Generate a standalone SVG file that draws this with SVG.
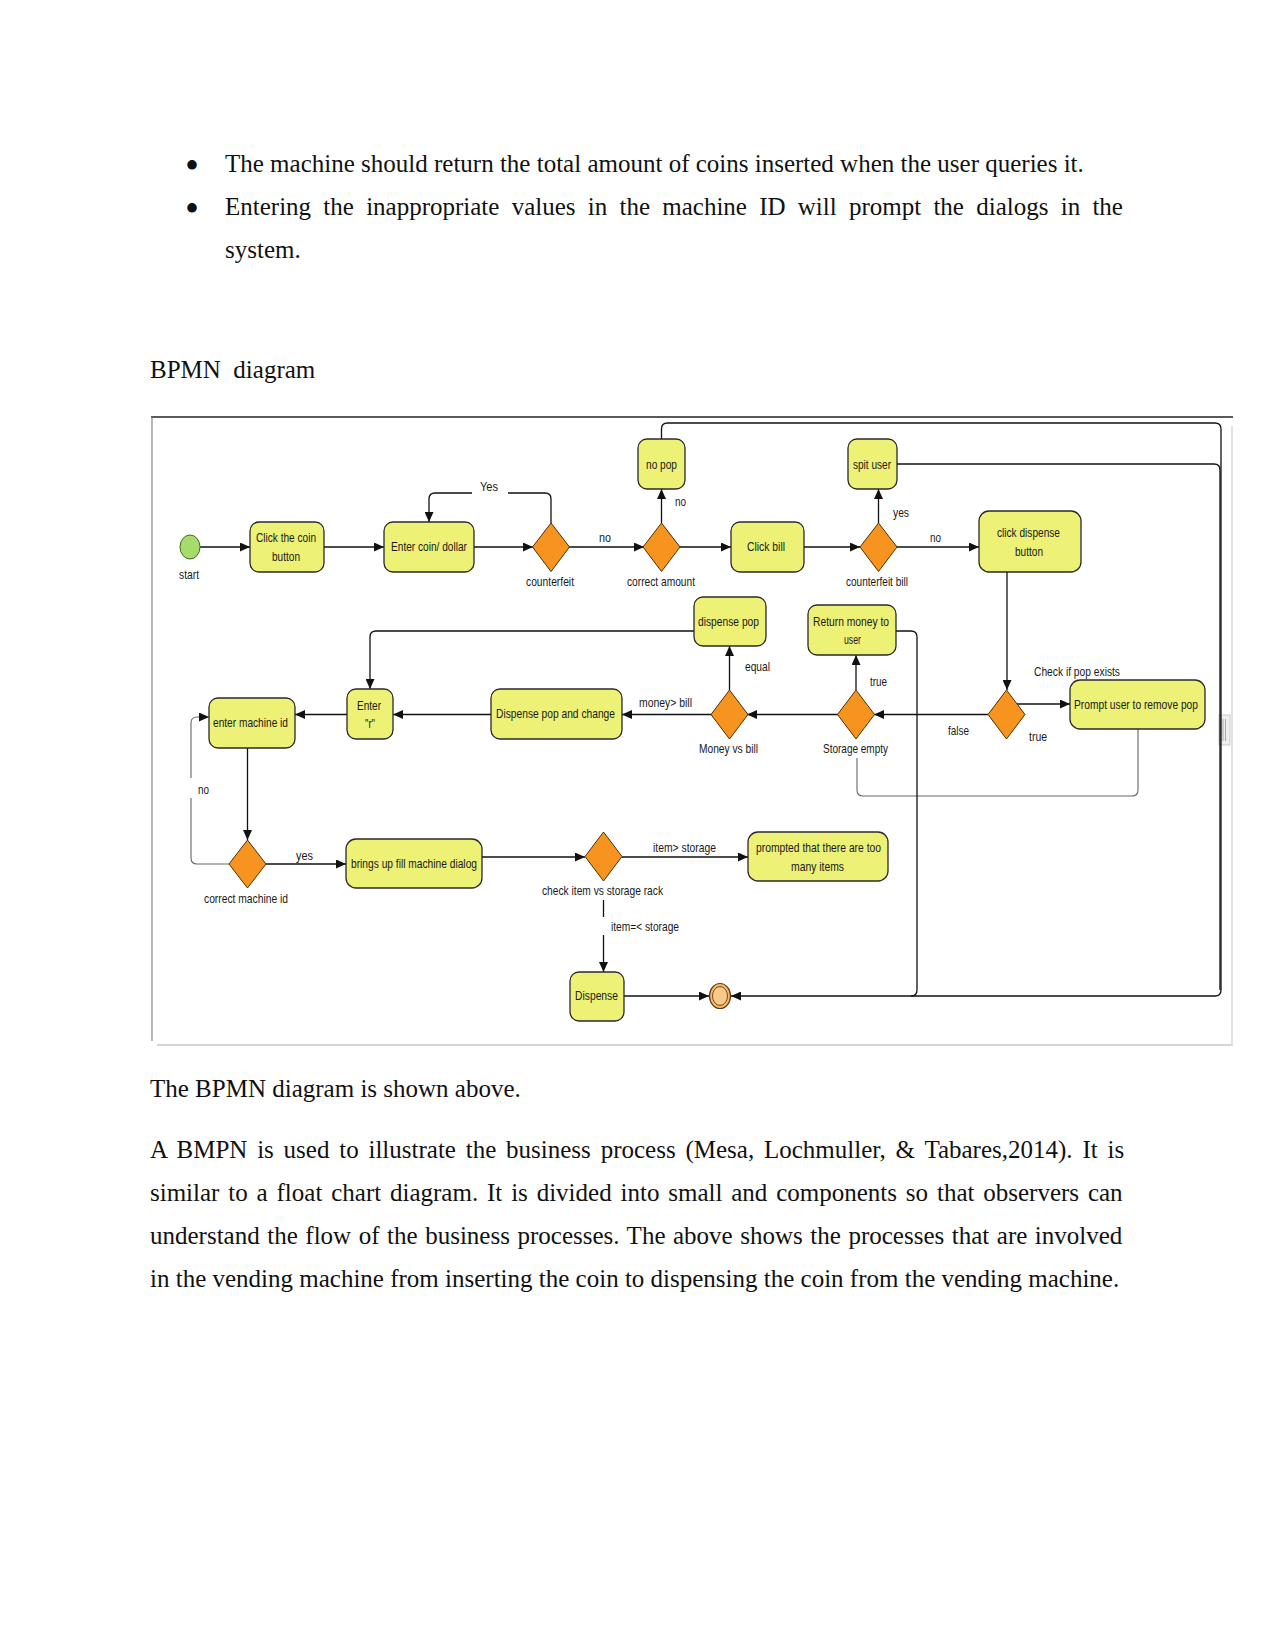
<svg xmlns="http://www.w3.org/2000/svg" width="1275" height="1651" viewBox="0 0 1275 1651">
<style>
.body{font-family:"Liberation Serif","Times New Roman",serif;font-size:25px;fill:#111}
.bul{font-family:"Liberation Serif","Times New Roman",serif;font-size:40px;fill:#111}
.lbl{font-family:"Liberation Sans",Arial,sans-serif;font-size:13px;fill:#1a1a1a}
.box{fill:#EDF176;stroke:#2a2a2a;stroke-width:1.3}
.dia{fill:#F7941F;stroke:#4a3000;stroke-width:1}
.c{fill:none;stroke:#111;stroke-width:1.3}
.cg{fill:none;stroke:#666;stroke-width:1.1}
</style>
<defs>
<marker id="ah" markerWidth="10" markerHeight="9" refX="10" refY="4.5" orient="auto" markerUnits="userSpaceOnUse"><path d="M0,0 L10,4.5 L0,9 z" fill="#111"/></marker>
</defs>
<rect width="1275" height="1651" fill="#fff"/>

<!-- page text -->
<g id="page-text">
<text class="bul" x="185" y="179">•</text>
<text class="body" x="225" y="172">The machine should return the total amount of coins inserted when the user queries it.</text>
<text class="bul" x="185" y="222">•</text>
<text class="body" x="225" y="215" word-spacing="6">Entering the inappropriate values in the machine ID will prompt the dialogs in the</text>
<text class="body" x="225" y="258">system.</text>
<text class="body" x="150" y="378" xml:space="preserve">BPMN  diagram</text>
<text class="body" x="150" y="1097">The BPMN diagram is shown above.</text>
<text class="body" x="150" y="1158" word-spacing="3.55">A BMPN is used to illustrate the business process (Mesa, Lochmuller, &amp; Tabares,2014). It is</text>
<text class="body" x="150" y="1201" word-spacing="2.6">similar to a float chart diagram. It is divided into small and components so that observers can</text>
<text class="body" x="150" y="1244" word-spacing="1.3">understand the flow of the business processes. The above shows the processes that are involved</text>
<text class="body" x="150" y="1287">in the vending machine from inserting the coin to dispensing the coin from the vending machine.</text>
</g>

<!-- frame -->
<g id="frame">
<line x1="151" y1="417" x2="1233" y2="417" stroke="#222" stroke-width="1.5"/>
<line x1="152" y1="417" x2="152" y2="1041" stroke="#888" stroke-width="1.2"/>
<line x1="157" y1="1045" x2="1233" y2="1045" stroke="#d4d4d4" stroke-width="2"/>
<line x1="1232" y1="426" x2="1232" y2="1045" stroke="#e2e2e2" stroke-width="2"/>
<rect x="1219" y="715" width="11" height="30" fill="#eee" stroke="#ccc" stroke-width="1"/>
<line x1="1223" y1="719" x2="1223" y2="741" stroke="#aaa"/>
<line x1="1225.5" y1="719" x2="1225.5" y2="741" stroke="#aaa"/>
</g>

<!-- connectors -->
<g id="connectors">
<path class="c" d="M200,547 H250" marker-end="url(#ah)"/>
<path class="c" d="M324,547 H384" marker-end="url(#ah)"/>
<path class="c" d="M474,547 H533" marker-end="url(#ah)"/>
<path class="c" d="M551,523 V499 Q551,493 545,493 H508"/>
<path class="c" d="M472,493 H435 Q429,493 429,499 V522" marker-end="url(#ah)"/>
<path class="c" d="M569,547 H644" marker-end="url(#ah)"/>
<path class="c" d="M661.5,523 V489" marker-end="url(#ah)"/>
<path class="c" d="M661.5,439 V429 Q661.5,423 667.5,423 H1215 Q1221,423 1221,429 V990 Q1221,996 1215,996 H731" marker-end="url(#ah)"/>
<path class="c" d="M679,547 H731" marker-end="url(#ah)"/>
<path class="c" d="M804,547 H860" marker-end="url(#ah)"/>
<path class="c" d="M878.5,523 V489" marker-end="url(#ah)"/>
<path class="c" d="M897,464 H1214 Q1220,464 1220,470 V990"/>
<path class="c" d="M897,547 H979" marker-end="url(#ah)"/>
<path class="c" d="M1007,572 V690" marker-end="url(#ah)"/>
<path class="c" d="M1017,704 H1070" marker-end="url(#ah)"/>
<path class="c" d="M988,714.5 H874" marker-end="url(#ah)"/>
<path class="cg" d="M1138,729 V790 Q1138,796 1132,796 H863 Q857,796 857,790 V758"/>
<path class="c" d="M856,690 V655" marker-end="url(#ah)"/>
<path class="c" d="M896,631 H911 Q917,631 917,637 V990 Q917,996 911,996"/>
<path class="c" d="M838,714.5 H747" marker-end="url(#ah)"/>
<path class="c" d="M729.5,690 V646" marker-end="url(#ah)"/>
<path class="c" d="M712,714.5 H622" marker-end="url(#ah)"/>
<path class="c" d="M694,631 H376 Q370,631 370,637 V689" marker-end="url(#ah)"/>
<path class="c" d="M491,714.5 H393" marker-end="url(#ah)"/>
<path class="c" d="M347,714.5 H295" marker-end="url(#ah)"/>
<path class="c" d="M247.5,748 V840" marker-end="url(#ah)"/>
<path class="cg" d="M229,864 H197 Q191,864 191,858 V798"/>
<path class="cg" d="M191,778 V723 Q191,717 197,717 H209" marker-end="url(#ah)"/>
<path class="c" d="M266,864 H346" marker-end="url(#ah)"/>
<path class="c" d="M482,857 H585" marker-end="url(#ah)"/>
<path class="c" d="M622,857 H748" marker-end="url(#ah)"/>
<path class="c" d="M603.5,900 V917"/>
<path class="c" d="M603.5,935 V972" marker-end="url(#ah)"/>
<path class="c" d="M624,996 H709" marker-end="url(#ah)"/>
</g>

<!-- nodes -->
<g id="start">
<ellipse cx="190" cy="547" rx="10" ry="12" fill="#A6DC6C" stroke="#3f6a22" stroke-width="1"/>
<text class="lbl" x="179" y="579" textLength="20" lengthAdjust="spacingAndGlyphs">start</text>
</g>
<g id="click-coin">
<rect class="box" x="250" y="522" width="74" height="50" rx="9"/>
<text class="lbl" x="256" y="542" textLength="60" lengthAdjust="spacingAndGlyphs">Click the coin</text>
<text class="lbl" x="272" y="561" textLength="28" lengthAdjust="spacingAndGlyphs">button</text>
</g>
<g id="enter-coin">
<rect class="box" x="384" y="522" width="90" height="50" rx="9"/>
<text class="lbl" x="391" y="551" textLength="76" lengthAdjust="spacingAndGlyphs">Enter coin/ dollar</text>
</g>
<g id="counterfeit">
<polygon class="dia" points="551,523 569.5,547 551,571.5 532.5,547"/>
<text class="lbl" x="526" y="586" textLength="48" lengthAdjust="spacingAndGlyphs">counterfeit</text>
<text class="lbl" x="480" y="491" textLength="18" lengthAdjust="spacingAndGlyphs">Yes</text>
<text class="lbl" x="599" y="542" textLength="12" lengthAdjust="spacingAndGlyphs">no</text>
</g>
<g id="correct-amount">
<polygon class="dia" points="661.5,523 680,547 661.5,571.5 643,547"/>
<text class="lbl" x="627" y="586" textLength="68" lengthAdjust="spacingAndGlyphs">correct amount</text>
<text class="lbl" x="675" y="506" textLength="11" lengthAdjust="spacingAndGlyphs">no</text>
</g>
<g id="no-pop">
<rect class="box" x="638" y="439" width="47" height="50" rx="9"/>
<text class="lbl" x="646" y="469" textLength="31" lengthAdjust="spacingAndGlyphs">no pop</text>
</g>
<g id="click-bill">
<rect class="box" x="731" y="522" width="73" height="50" rx="9"/>
<text class="lbl" x="747" y="551" textLength="38" lengthAdjust="spacingAndGlyphs">Click bill</text>
</g>
<g id="counterfeit-bill">
<polygon class="dia" points="878.5,523 897,547 878.5,571.5 860,547"/>
<text class="lbl" x="846" y="586" textLength="62" lengthAdjust="spacingAndGlyphs">counterfeit bill</text>
<text class="lbl" x="893" y="517" textLength="16" lengthAdjust="spacingAndGlyphs">yes</text>
<text class="lbl" x="930" y="542" textLength="11" lengthAdjust="spacingAndGlyphs">no</text>
</g>
<g id="spit-user">
<rect class="box" x="848" y="439" width="49" height="50" rx="9"/>
<text class="lbl" x="853" y="469" textLength="38" lengthAdjust="spacingAndGlyphs">spit user</text>
</g>
<g id="click-dispense">
<rect class="box" x="979" y="511" width="102" height="61" rx="10"/>
<text class="lbl" x="997" y="537" textLength="63" lengthAdjust="spacingAndGlyphs">click dispense</text>
<text class="lbl" x="1015" y="556" textLength="28" lengthAdjust="spacingAndGlyphs">button</text>
</g>
<g id="check-pop">
<polygon class="dia" points="1006.5,690 1025,714.5 1006.5,739 988,714.5"/>
<text class="lbl" x="1034" y="676" textLength="86" lengthAdjust="spacingAndGlyphs">Check if pop exists</text>
<text class="lbl" x="948" y="735" textLength="21" lengthAdjust="spacingAndGlyphs">false</text>
<text class="lbl" x="1029" y="741" textLength="18" lengthAdjust="spacingAndGlyphs">true</text>
</g>
<g id="prompt-remove">
<rect class="box" x="1070" y="680" width="135" height="49" rx="10"/>
<text class="lbl" x="1074" y="709" textLength="124" lengthAdjust="spacingAndGlyphs">Prompt user to remove pop</text>
</g>
<g id="storage-empty">
<polygon class="dia" points="856,690 874.5,714.5 856,739 837.5,714.5"/>
<text class="lbl" x="823" y="753" textLength="65" lengthAdjust="spacingAndGlyphs">Storage empty</text>
<text class="lbl" x="870" y="686" textLength="17" lengthAdjust="spacingAndGlyphs">true</text>
</g>
<g id="return-money">
<rect class="box" x="808" y="605" width="88" height="50" rx="9"/>
<text class="lbl" x="813" y="626" textLength="76" lengthAdjust="spacingAndGlyphs">Return money to</text>
<text class="lbl" x="844" y="644" textLength="17" lengthAdjust="spacingAndGlyphs">user</text>
</g>
<g id="money-vs-bill">
<polygon class="dia" points="729.5,690 748,714.5 729.5,739 711,714.5"/>
<text class="lbl" x="699" y="753" textLength="59" lengthAdjust="spacingAndGlyphs">Money vs bill</text>
<text class="lbl" x="745" y="671" textLength="25" lengthAdjust="spacingAndGlyphs">equal</text>
<text class="lbl" x="639" y="707" textLength="53" lengthAdjust="spacingAndGlyphs">money&gt; bill</text>
</g>
<g id="dispense-pop">
<rect class="box" x="694" y="597" width="72" height="49" rx="9"/>
<text class="lbl" x="698" y="626" textLength="61" lengthAdjust="spacingAndGlyphs">dispense pop</text>
</g>
<g id="dispense-pop-change">
<rect class="box" x="491" y="689" width="131" height="50" rx="9"/>
<text class="lbl" x="496" y="718" textLength="119" lengthAdjust="spacingAndGlyphs">Dispense pop and change</text>
</g>
<g id="enter-r">
<rect class="box" x="347" y="689" width="46" height="50" rx="9"/>
<text class="lbl" x="357" y="710" textLength="24" lengthAdjust="spacingAndGlyphs">Enter</text>
<text class="lbl" x="365" y="728" textLength="10" lengthAdjust="spacingAndGlyphs">"r"</text>
</g>
<g id="enter-machine-id">
<rect class="box" x="209" y="698" width="86" height="50" rx="9"/>
<text class="lbl" x="213" y="727" textLength="75" lengthAdjust="spacingAndGlyphs">enter machine id</text>
</g>
<g id="correct-machine-id">
<polygon class="dia" points="247.5,840 266,864 247.5,888 229,864"/>
<text class="lbl" x="204" y="903" textLength="84" lengthAdjust="spacingAndGlyphs">correct machine id</text>
<text class="lbl" x="198" y="794" textLength="11" lengthAdjust="spacingAndGlyphs">no</text>
<text class="lbl" x="296" y="860" textLength="17" lengthAdjust="spacingAndGlyphs">yes</text>
</g>
<g id="fill-dialog">
<rect class="box" x="346" y="839" width="136" height="49" rx="10"/>
<text class="lbl" x="351" y="868" textLength="126" lengthAdjust="spacingAndGlyphs">brings up fill machine dialog</text>
</g>
<g id="check-item">
<polygon class="dia" points="603.5,832 622,856.5 603.5,881 585,856.5"/>
<text class="lbl" x="542" y="895" textLength="121" lengthAdjust="spacingAndGlyphs">check item vs storage rack</text>
<text class="lbl" x="653" y="852" textLength="63" lengthAdjust="spacingAndGlyphs">item&gt; storage</text>
<text class="lbl" x="611" y="931" textLength="68" lengthAdjust="spacingAndGlyphs">item=&lt; storage</text>
</g>
<g id="too-many">
<rect class="box" x="748" y="832" width="140" height="49" rx="10"/>
<text class="lbl" x="756" y="852" textLength="125" lengthAdjust="spacingAndGlyphs">prompted that there are too</text>
<text class="lbl" x="791" y="871" textLength="53" lengthAdjust="spacingAndGlyphs">many items</text>
</g>
<g id="dispense">
<rect class="box" x="570" y="972" width="54" height="49" rx="9"/>
<text class="lbl" x="575" y="1000" textLength="43" lengthAdjust="spacingAndGlyphs">Dispense</text>
</g>
<g id="end">
<ellipse cx="720" cy="996" rx="10.5" ry="12.5" fill="#F4B96E" stroke="#5a3a10" stroke-width="1.2"/>
<ellipse cx="720" cy="996" rx="7.5" ry="9.5" fill="#F7C98A" stroke="#7a4a10" stroke-width="1"/>
</g>
</svg>
